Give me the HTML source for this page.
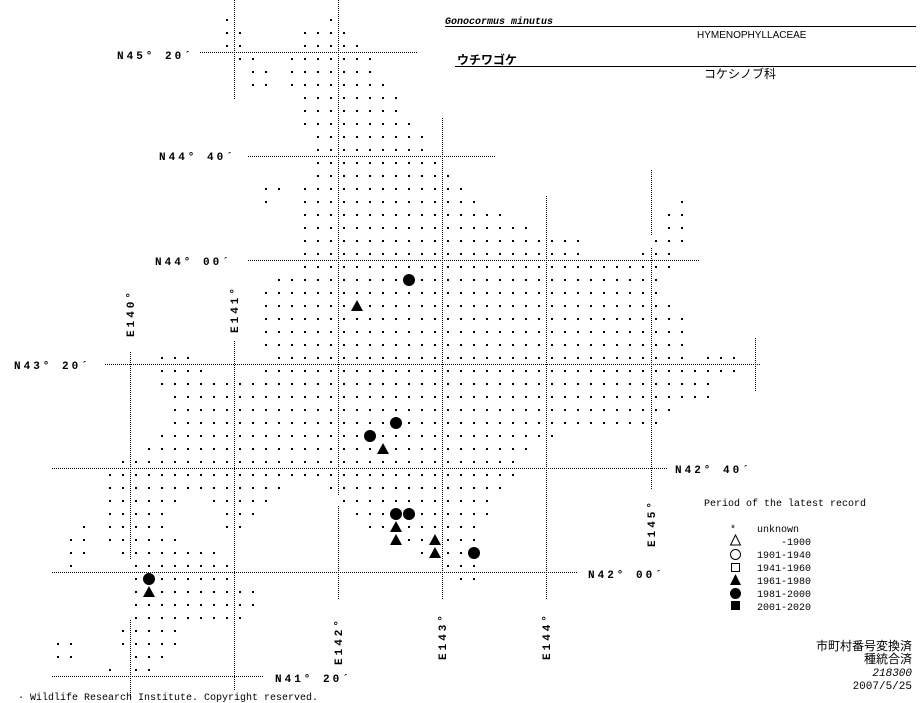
<!DOCTYPE html>
<html><head><meta charset="utf-8">
<style>
html,body{margin:0;padding:0;background:#fff;}
svg{display:block;}
.lab{font-family:"Liberation Mono",monospace;font-weight:bold;font-size:11px;letter-spacing:3px;fill:#000;}
.leg{font-family:"Liberation Mono",monospace;font-size:10px;fill:#000;}
.jp{font-family:"Liberation Sans","Noto Sans CJK JP",sans-serif;fill:#000;}
</style></head>
<body>
<svg id="m" width="923" height="703" viewBox="0 0 923 703" xmlns="http://www.w3.org/2000/svg">
<g id="lines" stroke="#000" stroke-width="1" stroke-dasharray="1 1" fill="none">
<line x1="234.5" y1="0" x2="234.5" y2="100"/>
<line x1="234.5" y1="341" x2="234.5" y2="690"/>
<line x1="130.5" y1="352" x2="130.5" y2="560"/>
<line x1="130.5" y1="620" x2="130.5" y2="700"/>
<line x1="338.5" y1="0" x2="338.5" y2="495"/>
<line x1="338.5" y1="506" x2="338.5" y2="600"/>
<line x1="442.5" y1="118" x2="442.5" y2="600"/>
<line x1="546.5" y1="196" x2="546.5" y2="600"/>
<line x1="651.5" y1="170" x2="651.5" y2="235"/>
<line x1="651.5" y1="248" x2="651.5" y2="490"/>
<line x1="755.5" y1="338" x2="755.5" y2="392"/>
<line x1="200" y1="52.5" x2="417" y2="52.5"/>
<line x1="248" y1="156.5" x2="495" y2="156.5"/>
<line x1="248" y1="260.5" x2="700" y2="260.5"/>
<line x1="105" y1="364.5" x2="760" y2="364.5"/>
<line x1="52" y1="468.5" x2="667" y2="468.5"/>
<line x1="52" y1="572.5" x2="577" y2="572.5"/>
<line x1="52" y1="676.5" x2="263" y2="676.5"/>
</g>
<g id="dots" fill="#000"></g>
<g id="marks" fill="#000">
<circle cx="409" cy="280" r="6"/>
<circle cx="396" cy="423" r="6"/>
<circle cx="370" cy="436" r="6"/>
<circle cx="396" cy="514" r="6"/>
<circle cx="409" cy="514" r="6"/>
<circle cx="474" cy="553" r="6"/>
<circle cx="149" cy="579" r="6"/>
<polygon points="357,300 363,311 351,311"/>
<polygon points="383,443 389,454 377,454"/>
<polygon points="396,521 402,532 390,532"/>
<polygon points="396,534 402,545 390,545"/>
<polygon points="435,534 441,545 429,545"/>
<polygon points="435,547 441,558 429,558"/>
<polygon points="149,586 155,597 143,597"/>
</g>
<g class="lab">
<text x="117" y="59">N45° 20´</text>
<text x="159" y="160">N44° 40´</text>
<text x="155" y="265">N44° 00´</text>
<text x="14" y="369">N43° 20´</text>
<text x="675" y="473">N42° 40´</text>
<text x="588" y="578">N42° 00´</text>
<text x="275" y="682">N41° 20´</text>
<text transform="translate(134,337) rotate(-90)">E140°</text>
<text transform="translate(238,333) rotate(-90)">E141°</text>
<text transform="translate(342,665) rotate(-90)">E142°</text>
<text transform="translate(446,660) rotate(-90)">E143°</text>
<text transform="translate(550,660) rotate(-90)">E144°</text>
<text transform="translate(655,547) rotate(-90)">E145°</text>
</g>
<text x="445" y="24" style="font-family:'Liberation Mono',monospace;font-weight:bold;font-style:italic;font-size:10px;">Gonocormus minutus</text>
<line x1="445" y1="26.5" x2="916" y2="26.5" stroke="#000"/>
<text x="697" y="38" style="font-family:'Liberation Sans',sans-serif;font-size:10px;">HYMENOPHYLLACEAE</text>
<text x="457" y="64" class="jp" style="font-size:12px;font-weight:bold;">ウチワゴケ</text>
<line x1="455" y1="66.5" x2="916" y2="66.5" stroke="#000"/>
<text x="704" y="78" class="jp" style="font-size:12px;">コケシノブ科</text>
<g class="leg">
<text x="704" y="506">Period of the latest record</text>
<text x="730" y="532">*</text>
<text x="757" y="532">unknown</text>
<text x="811" y="545" text-anchor="end">-1900</text>
<text x="757" y="558">1901-1940</text>
<text x="757" y="571">1941-1960</text>
<text x="757" y="584">1961-1980</text>
<text x="757" y="597">1981-2000</text>
<text x="757" y="610">2001-2020</text>
</g>
<g stroke="#000" fill="none">
<polygon points="735.5,535 740.5,545 730.5,545"/>
<circle cx="735.5" cy="554.5" r="5"/>
<rect x="731.5" y="563.5" width="8" height="8"/>
</g>
<g fill="#000">
<polygon points="735.5,574 741,585 730,585"/>
<circle cx="735.5" cy="593.5" r="5.5"/>
<rect x="731" y="601" width="9" height="9"/>
</g>
<g class="jp" style="font-size:12px;" text-anchor="end">
<text x="912" y="650">市町村番号変換済</text>
<text x="912" y="663">種統合済</text>
<text x="912" y="676" style="font-style:italic;font-family:'Liberation Mono',monospace;font-size:11px;">218300</text>
<text x="912" y="689" style="font-family:'Liberation Mono',monospace;font-size:11px;">2007/5/25</text>
</g>
<text x="18" y="700" style="font-family:'Liberation Mono',monospace;font-size:10px;">· Wildlife Research Institute. Copyright reserved.</text>
</svg>
<script>
var R={0:[[13],[21]],1:[[13,14],[19,22]],2:[[13,14],[19,23]],3:[[14,15],[18,24]],4:[[15,16],[18,24]],5:[[15,16],[18,25]],
6:[[19,26]],7:[[19,26]],8:[[19,27]],9:[[20,28]],10:[[20,28]],11:[[20,29]],12:[[20,30]],13:[[16,17],[19,31]],
14:[[16],[19,32],[48]],15:[[19,34],[47,48]],16:[[19,36],[47,48]],17:[[19,40],[46,48]],18:[[19,40],[45,47]],19:[[19,47]],
20:[[17,46]],21:[[16,46]],22:[[16,47]],23:[[16,48]],24:[[16,48]],25:[[16,48]],26:[[8,10],[17,48],[50,52]],27:[[8,11],[16,52]],
28:[[8,50]],29:[[9,50]],30:[[9,47]],31:[[9,46]],32:[[8,38]],33:[[7,36]],34:[[5,35]],35:[[4,35]],36:[[4,17],[21,34]],
37:[[4,9],[12,16],[22,33]],38:[[4,8],[13,15],[23,33]],39:[[2],[4,8],[13,14],[24,32]],40:[[1,2],[4,9],[26,32]],
41:[[1,2],[5,12],[28,32]],42:[[1],[6,13],[30,32]],43:[[6,13],[31,32]],44:[[6,15]],45:[[6,15]],46:[[6,14]],47:[[5,9]],
48:[[0,1],[5,9]],49:[[0,1],[6,8]],50:[[4],[6,7]]};
var s='';
for(var i in R){R[i].forEach(function(r){var a=r[0],b=r.length>1?r[1]:r[0];for(var j=a;j<=b;j++){s+='<rect x="'+(58+13*j-1)+'" y="'+(20+13*i-1)+'" width="2" height="2"/>';}});}
document.getElementById('dots').innerHTML=s;
</script>
</body></html>
